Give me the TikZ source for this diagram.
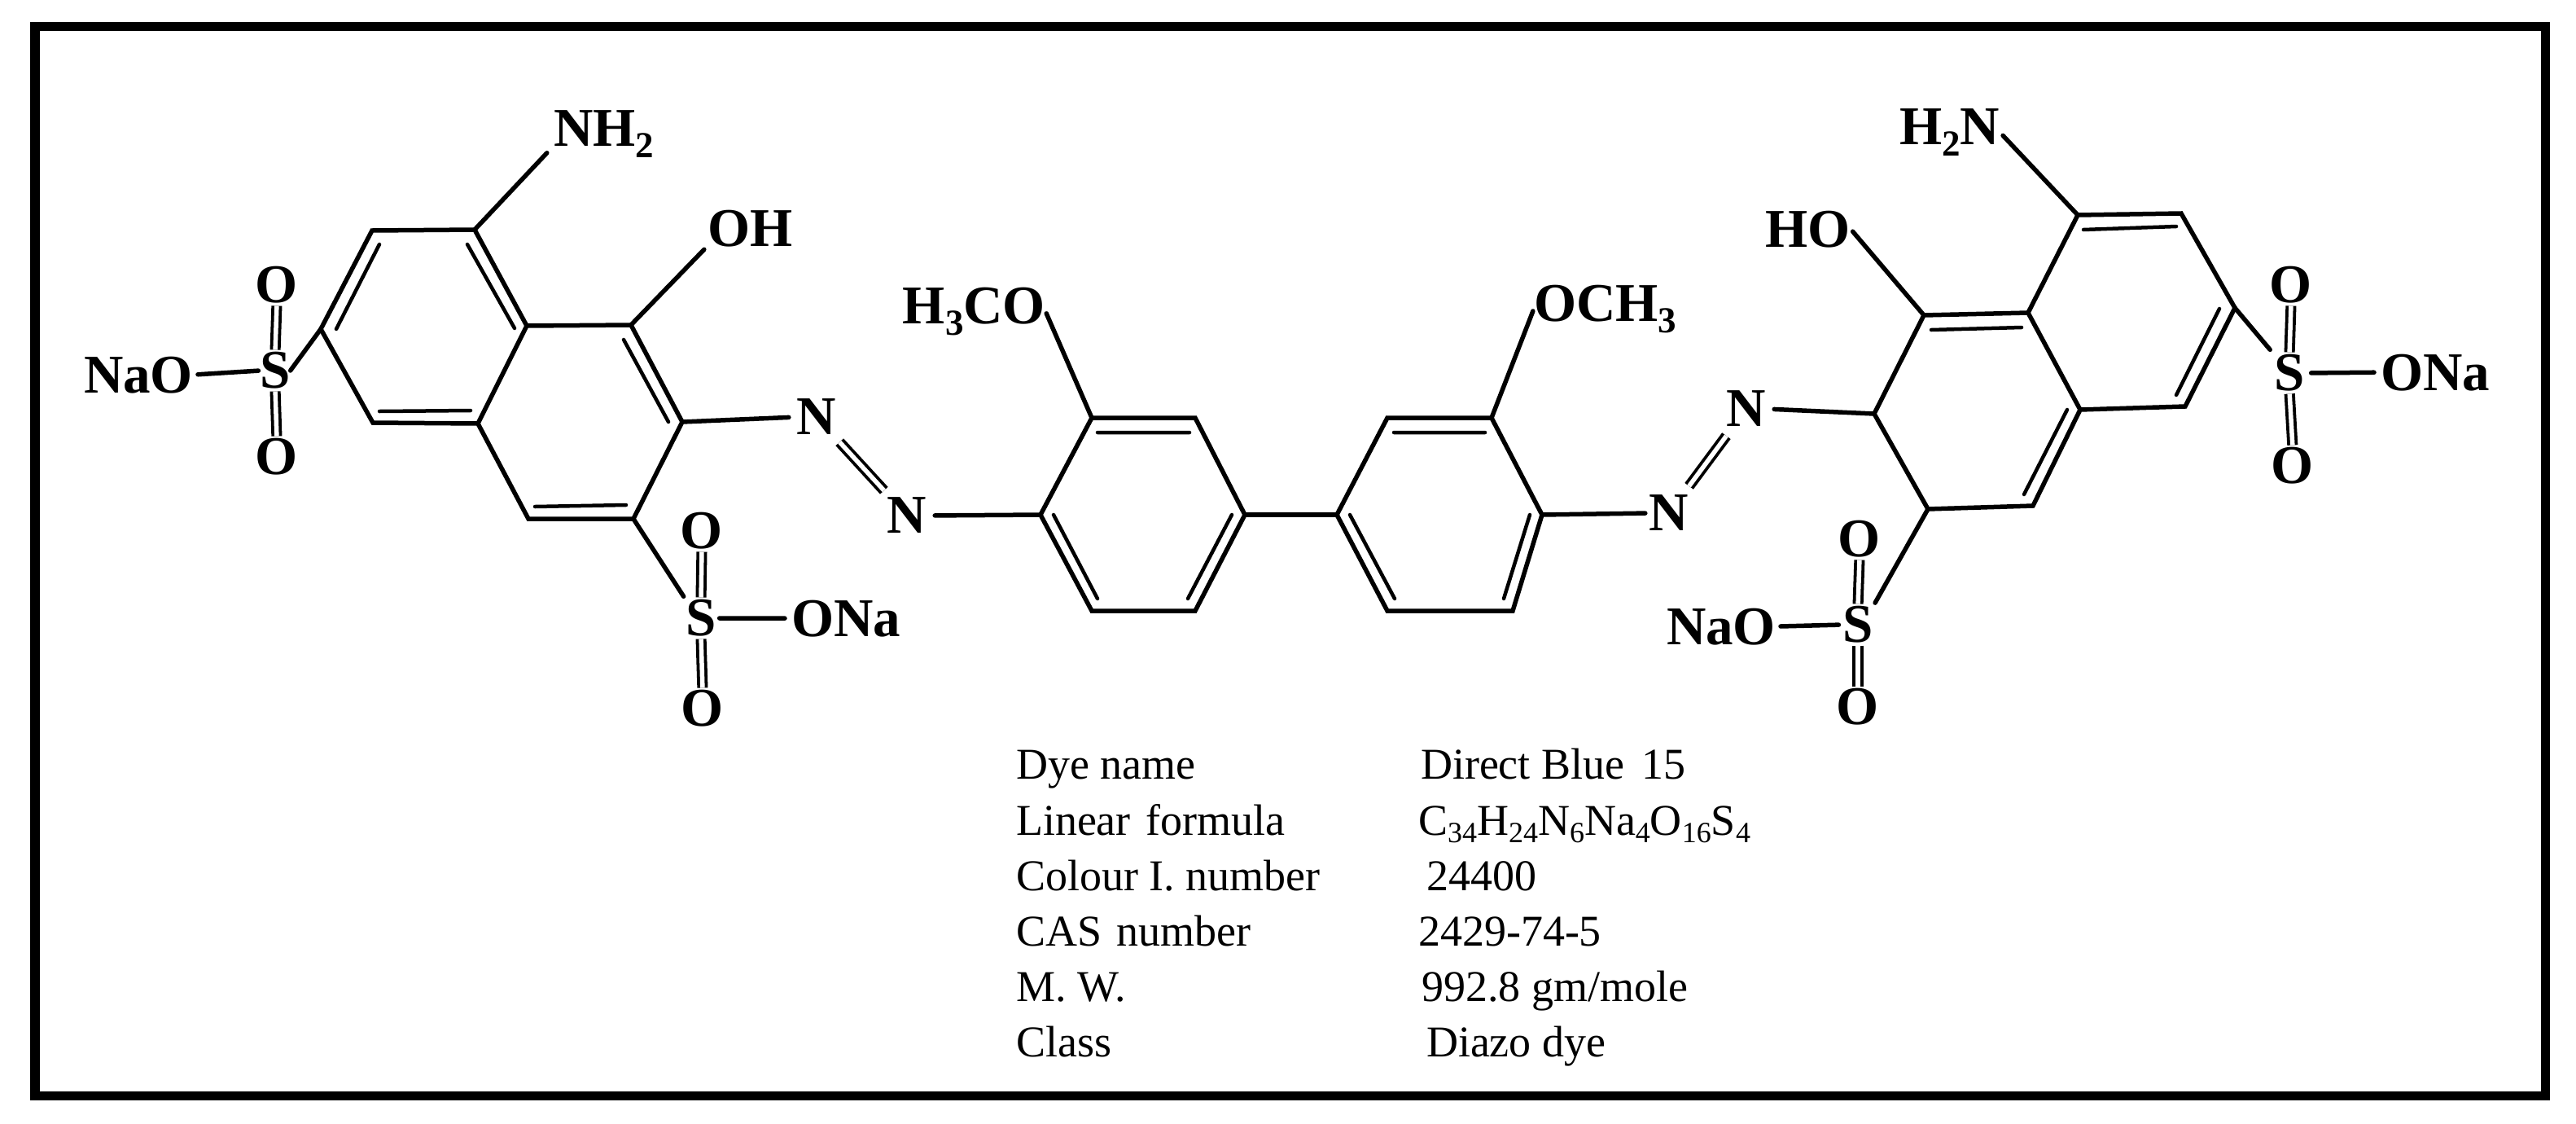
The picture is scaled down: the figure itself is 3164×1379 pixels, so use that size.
\documentclass[tikz,border=0pt]{standalone}
\usepackage{fontspec}
\setmainfont{Liberation Serif}
\newcommand{\sbl}[1]{\raisebox{-14pt}{\fontsize{45}{45}\selectfont #1}}
\newcommand{\sbt}[1]{\raisebox{-9pt}{\fontsize{36}{36}\selectfont #1}}
\tikzset{
  bond/.style={line width=5.5pt,line cap=round,line join=miter},
  inbond/.style={line width=4.5pt,line cap=round},
  dbl/.style={line width=3.8pt,double,double distance=5.5pt},
  atom/.style={font=\fontsize{67}{67}\selectfont\bfseries,inner sep=0pt,outer sep=0pt,text=black},
  rowtext/.style={font=\fontsize{54}{54}\selectfont,inner sep=0pt,outer sep=0pt,anchor=base west,text=black},
  frame/.style={line width=11.5pt,draw=black,outer sep=0pt}
}
\begin{document}
\begin{tikzpicture}[x=1pt,y=-1pt]
\useasboundingbox (0,0) rectangle (3164,1379);
\fill[white] (0,0) rectangle (3164,1379);
\node[frame,minimum width=3083.5pt,minimum height=1313pt,inner sep=0pt,anchor=north west] (border) at (43,32.5) {};
\foreach \n/\x/\y in {a/457/283,b/583/282,c/647/400,d/775/399,e/838/518,f/778/637,g/649/637,h/587/520,i/458/519,j/394/404,
 ai/466/300,aj/413/404,bi/574/300,ci/632/403,ii/466/505,hi/578/504,di/766/417,ei/821/518,gi/657/622,fi/769/620,
 p1/1278/632,p2/1341/513,p3/1468/513,p4/1529/632,p5/1468/750,p6/1341/750,
 q1/1642/632,q2/1704/513,q3/1832/513,q4/1894/632,q5/1858/750,q6/1704/750,
 pa/1348/531,pb/1461/531,qa/1712/531,qb/1824/531,
 pc/1294/632,pd/1348/735,pe/1513/632,pf/1459/735,
 qc/1658/632,qd/1713/735,qe/1879/632,qf/1847/735,
 r1/2552/264,r2/2679/262,r3/2745/378,r4/2684/499,r5/2555/503,r6/2491/384,r7/2363/387,r8/2302/508,r9/2368/625,r10/2497/621,
 ra/2559/282,rb/2673/278,rc/2483/402,rd/2372/405,re/2726/379,rf/2673/485,rg/2539/503,rh/2486/607}
  \coordinate (\n) at (\x,\y);
% labels
\node[atom,anchor=base west] (nh2) at (680,179) {NH\sbl{2}};
\node[atom,anchor=base west] (oh) at (869,302) {OH};
\node[atom,anchor=base west] (nao1) at (103,482) {NaO};
\node[atom] (s1) at (338,455) {S};
\node[atom] (o1) at (340,350) {O};
\node[atom] (o2) at (340,561) {O};
\node[atom] (s2) at (861,759) {S};
\node[atom] (o3) at (862,652) {O};
\node[atom] (o4) at (863,870) {O};
\node[atom,anchor=base west] (ona1) at (972,781) {ONa};
\node[atom] (n1) at (1003,512) {N};
\node[atom] (n2) at (1114,633) {N};
\node[atom,anchor=base east] (h3co) at (1284,397) {H\sbl{3}CO};
\node[atom,anchor=base west] (och3) at (1884,394) {OCH\sbl{3}};
\node[atom] (n3) at (2050,630) {N};
\node[atom] (n4) at (2145,502) {N};
\node[atom,anchor=base east] (ho) at (2273,303) {HO};
\node[atom,anchor=base east] (h2n) at (2456,177) {H\sbl{2}N};
\node[atom,anchor=base east] (nao2) at (2181,791) {NaO};
\node[atom] (s3) at (2282,767) {S};
\node[atom] (o5) at (2284,662) {O};
\node[atom] (o6) at (2282,868) {O};
\node[atom] (s4) at (2812,458) {S};
\node[atom] (o7) at (2814,350) {O};
\node[atom] (o8) at (2816,572) {O};
\node[atom,anchor=base west] (ona2) at (2924,479) {ONa};
% rings
\draw[bond] (a)--(b)--(c)--(d)--(e)--(f)--(g)--(h)--(i)--(j)--cycle;
\draw[bond] (c)--(h);
\draw[inbond] (ai)--(aj) (bi)--(ci) (ii)--(hi) (di)--(ei) (gi)--(fi);
\draw[bond] (p1)--(p2)--(p3)--(p4)--(p5)--(p6)--cycle;
\draw[bond] (q1)--(q2)--(q3)--(q4)--(q5)--(q6)--cycle;
\draw[inbond] (pa)--(pb) (qa)--(qb) (pc)--(pd) (pe)--(pf) (qc)--(qd) (qe)--(qf);
\draw[bond] (r1)--(r2)--(r3)--(r4)--(r5)--(r6)--(r7)--(r8)--(r9)--(r10)--(r5);
\draw[bond] (r6)--(r1);
\draw[inbond] (ra)--(rb) (rc)--(rd) (re)--(rf) (rg)--(rh);
% substituent bonds
\draw[bond,shorten >=12pt] (b)--(nh2.base west);
\draw[bond,shorten >=6pt] (d)--(oh.base west);
\draw[bond] (j)--(s1.east);
\draw[bond,shorten <=2pt,shorten >=6pt] (s1.west)--(nao1.east);
\draw[dbl,shorten >=3pt,shorten <=3pt] (o1.south)--(s1.north);
\draw[dbl,shorten >=3pt,shorten <=3pt] (s1.south)--(o2.north);
\draw[bond,shorten >=5pt] (f)--(s2.north west);
\draw[bond,shorten <=4pt,shorten >=8pt] (s2.east)--(ona1.west);
\draw[dbl,shorten >=3pt,shorten <=3pt] (o3.south)--(s2.north);
\draw[dbl,shorten >=3pt,shorten <=3pt] (s2.south)--(o4.north);
\draw[bond,shorten >=10pt] (e)--(n1.west);
\draw[dbl,shorten >=12pt,shorten <=12pt] (n1)--(n2);
\draw[bond,shorten >=10pt] (p1)--(n2.east);
\draw[bond,shorten >=3pt] (p2)--(h3co.east);
\draw[bond,shorten >=3pt] (q3)--(och3.west);
\draw[bond] (p4)--(q1);
\draw[bond,shorten >=5pt] (q4)--(n3.west);
\draw[dbl,shorten >=14pt,shorten <=14pt] (n3)--(n4);
\draw[bond,shorten >=10pt] (r8)--(n4.east);
\draw[bond,shorten >=4pt] (r7)--(ho.east);
\draw[bond,shorten >=6pt] (r1)--(h2n.east);
\draw[bond,shorten >=5pt] (r9)--(s3.north east);
\draw[bond,shorten <=5pt,shorten >=6pt] (s3.west)--(nao2.east);
\draw[dbl,shorten >=3pt,shorten <=3pt] (o5.south)--(s3.north);
\draw[dbl,shorten >=3pt,shorten <=3pt] (s3.south)--(o6.north);
\draw[bond,shorten >=8pt] (r3)--(s4.north west);
\draw[bond,shorten <=8pt,shorten >=8pt] (s4.east)--(ona2.west);
\draw[dbl,shorten >=3pt,shorten <=3pt] (o7.south)--(s4.north);
\draw[dbl,shorten >=3pt,shorten <=3pt] (s4.south)--(o8.north);
% table
\node[rowtext] (t1a) at (1248,956) {Dye name};
\node[rowtext] (t1b) at (1745,956) {Direct Blue\hspace{8pt} 15};
\node[rowtext] (t2a) at (1248,1025) {Linear\hspace{5pt} formula};
\node[rowtext] (t2b) at (1742,1025) {C\sbt{34}H\sbt{24}N\sbt{6}Na\sbt{4}O\sbt{16}S\sbt{4}};
\node[rowtext] (t3a) at (1248,1093) {Colour I. number};
\node[rowtext] (t3b) at (1752,1093) {24400};
\node[rowtext] (t4a) at (1248,1161) {CAS\hspace{5pt} number};
\node[rowtext] (t4b) at (1742,1161) {2429-74-5};
\node[rowtext] (t5a) at (1248,1229) {M. W.};
\node[rowtext] (t5b) at (1746,1229) {992.8 gm/mole};
\node[rowtext] (t6a) at (1248,1297) {Class};
\node[rowtext] (t6b) at (1752,1297) {Diazo dye};
\end{tikzpicture}
\end{document}
